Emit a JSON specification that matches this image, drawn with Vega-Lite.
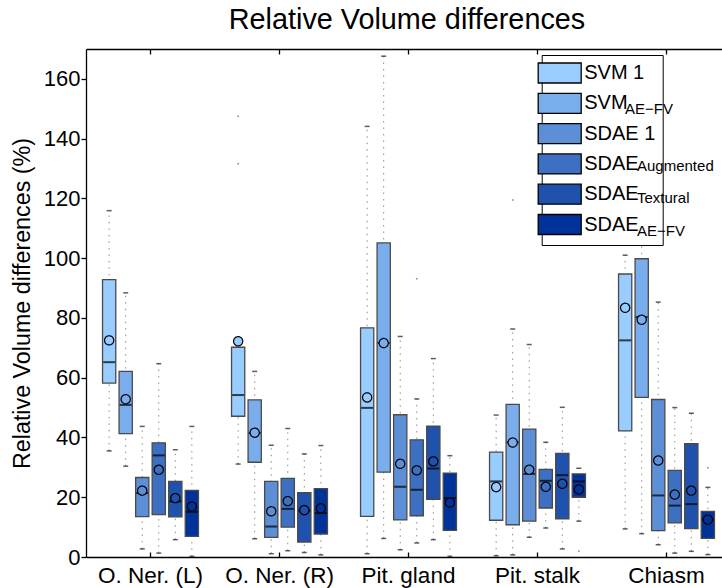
{
  "$schema": "https://vega.github.io/schema/vega-lite/v6.json",
  "width": 636,
  "height": 508,
  "autosize": "none",
  "padding": {"left": 86, "top": 49, "right": 0, "bottom": 31},
  "background": "white",
  "config": {"font": "Liberation Sans", "view": {"stroke": null}},
  "title": {"text": "Relative Volume differences", "fontSize": 28.8, "fontWeight": "normal", "color": "black", "anchor": "middle", "dx": 3, "offset": 14},
  "datasets": {
    "boxes": [
      {"structure": "O. Ner. (L)", "method": "SVM 1", "wlo": 35.5, "q1": 58.2, "median": 65.2, "q3": 92.8, "whi": 115.9, "mean": 72.5},
      {"structure": "O. Ner. (L)", "method": "SVM_AE−FV", "wlo": 30.4, "q1": 41.3, "median": 50.9, "q3": 62.1, "whi": 88.4, "mean": 52.8},
      {"structure": "O. Ner. (L)", "method": "SDAE 1", "wlo": 2.7, "q1": 13.5, "median": 21.4, "q3": 26.6, "whi": 43.7, "mean": 22.2},
      {"structure": "O. Ner. (L)", "method": "SDAE_Augmented", "wlo": 1.3, "q1": 14.2, "median": 34.0, "q3": 38.2, "whi": 64.7, "mean": 29.2},
      {"structure": "O. Ner. (L)", "method": "SDAE_Textural", "wlo": 5.8, "q1": 13.4, "median": 18.6, "q3": 25.3, "whi": 35.9, "mean": 19.7},
      {"structure": "O. Ner. (L)", "method": "SDAE_AE−FV", "wlo": 0.2, "q1": 6.9, "median": 15.1, "q3": 22.3, "whi": 43.7, "mean": 16.9},
      {"structure": "O. Ner. (R)", "method": "SVM 1", "wlo": 31.1, "q1": 47.1, "median": 54.2, "q3": 70.2, "whi": 70.2, "mean": 72.2},
      {"structure": "O. Ner. (R)", "method": "SVM_AE−FV", "wlo": 6.1, "q1": 31.7, "median": 41.5, "q3": 52.6, "whi": 62.1, "mean": 41.6},
      {"structure": "O. Ner. (R)", "method": "SDAE 1", "wlo": 1.1, "q1": 6.6, "median": 10.2, "q3": 25.3, "whi": 37.4, "mean": 15.3},
      {"structure": "O. Ner. (R)", "method": "SDAE_Augmented", "wlo": 2.1, "q1": 10.0, "median": 16.1, "q3": 26.3, "whi": 43.0, "mean": 18.7},
      {"structure": "O. Ner. (R)", "method": "SDAE_Textural", "wlo": 1.5, "q1": 5.0, "median": 15.5, "q3": 21.5, "whi": 34.5, "mean": 15.7},
      {"structure": "O. Ner. (R)", "method": "SDAE_AE−FV", "wlo": 0.7, "q1": 7.7, "median": 14.7, "q3": 22.9, "whi": 37.3, "mean": 16.3},
      {"structure": "Pit. gland", "method": "SVM 1", "wlo": 1.1, "q1": 13.6, "median": 49.9, "q3": 76.7, "whi": 144.1, "mean": 53.4},
      {"structure": "Pit. gland", "method": "SVM_AE−FV", "wlo": 6.2, "q1": 28.4, "median": 71.6, "q3": 105.1, "whi": 167.6, "mean": 71.6},
      {"structure": "Pit. gland", "method": "SDAE 1", "wlo": 2.4, "q1": 12.4, "median": 23.5, "q3": 47.6, "whi": 73.8, "mean": 31.2},
      {"structure": "Pit. gland", "method": "SDAE_Augmented", "wlo": 4.7, "q1": 13.8, "median": 22.5, "q3": 39.2, "whi": 52.9, "mean": 29.0},
      {"structure": "Pit. gland", "method": "SDAE_Textural", "wlo": 5.8, "q1": 19.3, "median": 29.6, "q3": 43.8, "whi": 66.4, "mean": 32.0},
      {"structure": "Pit. gland", "method": "SDAE_AE−FV", "wlo": 0.2, "q1": 8.9, "median": 19.7, "q3": 28.1, "whi": 33.9, "mean": 18.2},
      {"structure": "Pit. stalk", "method": "SVM 1", "wlo": 0.4, "q1": 12.3, "median": 25.3, "q3": 35.1, "whi": 47.5, "mean": 23.4},
      {"structure": "Pit. stalk", "method": "SVM_AE−FV", "wlo": 0.7, "q1": 10.8, "median": 38.4, "q3": 51.1, "whi": 76.3, "mean": 38.3},
      {"structure": "Pit. stalk", "method": "SDAE 1", "wlo": 6.6, "q1": 12.0, "median": 27.8, "q3": 42.8, "whi": 71.1, "mean": 29.2},
      {"structure": "Pit. stalk", "method": "SDAE_Augmented", "wlo": 9.7, "q1": 16.4, "median": 25.5, "q3": 29.3, "whi": 38.4, "mean": 23.5},
      {"structure": "Pit. stalk", "method": "SDAE_Textural", "wlo": 2.7, "q1": 12.8, "median": 27.4, "q3": 34.7, "whi": 50.1, "mean": 24.5},
      {"structure": "Pit. stalk", "method": "SDAE_AE−FV", "wlo": 12.0, "q1": 20.0, "median": 25.3, "q3": 27.8, "whi": 29.7, "mean": 22.6},
      {"structure": "Chiasm", "method": "SVM 1", "wlo": 9.4, "q1": 42.2, "median": 72.5, "q3": 94.7, "whi": 101.0, "mean": 83.4},
      {"structure": "Chiasm", "method": "SVM_AE−FV", "wlo": 7.8, "q1": 53.4, "median": 80.3, "q3": 99.8, "whi": 107.0, "mean": 79.4},
      {"structure": "Chiasm", "method": "SDAE 1", "wlo": 4.1, "q1": 8.8, "median": 20.6, "q3": 52.7, "whi": 85.3, "mean": 32.3},
      {"structure": "Chiasm", "method": "SDAE_Augmented", "wlo": 1.3, "q1": 11.4, "median": 17.2, "q3": 29.0, "whi": 50.0, "mean": 20.9},
      {"structure": "Chiasm", "method": "SDAE_Textural", "wlo": 1.9, "q1": 9.5, "median": 17.7, "q3": 37.9, "whi": 48.1, "mean": 22.2},
      {"structure": "Chiasm", "method": "SDAE_AE−FV", "wlo": 0.8, "q1": 6.2, "median": 12.5, "q3": 15.3, "whi": 23.3, "mean": 12.5}
    ],
    "outliers": [
      {"structure": "O. Ner. (R)", "method": "SVM 1", "value": 131.6},
      {"structure": "O. Ner. (R)", "method": "SVM 1", "value": 147.5},
      {"structure": "Pit. gland", "method": "SDAE_Augmented", "value": 93.1},
      {"structure": "Pit. stalk", "method": "SVM_AE−FV", "value": 119.5},
      {"structure": "Pit. stalk", "method": "SDAE_AE−FV", "value": 1.9},
      {"structure": "Chiasm", "method": "SDAE_AE−FV", "value": 29.9}
    ]
  },
  "layer": [
    {
      "data": {"name": "boxes"},
      "mark": {"type": "rule", "color": "#8c8c8c", "strokeDash": [1.5, 5], "strokeWidth": 1},
      "encoding": {
        "x": {"field": "structure", "type": "nominal", "sort": ["O. Ner. (L)", "O. Ner. (R)", "Pit. gland", "Pit. stalk", "Chiasm"], "scale": {"domain": ["O. Ner. (L)", "O. Ner. (R)", "Pit. gland", "Pit. stalk", "Chiasm"], "range": [0, 645], "paddingInner": 0, "paddingOuter": 0}, "axis": null},
        "xOffset": {"field": "method", "type": "nominal", "scale": {"domain": ["SVM 1", "SVM_AE−FV", "SDAE 1", "SDAE_Augmented", "SDAE_Textural", "SDAE_AE−FV"], "paddingInner": 0.2, "paddingOuter": 1.4}},
        "y": {"field": "wlo", "type": "quantitative", "scale": {"domain": [0, 170], "nice": false, "zero": false}, "axis": {"title": "Relative Volume differences (%)", "titleFontSize": 23.3, "titleFontWeight": "normal", "titleColor": "black", "titlePadding": 9, "labelFontSize": 22, "labelColor": "black", "tickSize": 5, "tickColor": "black", "tickWidth": 1.3, "labelPadding": 1, "values": [0, 20, 40, 60, 80, 100, 120, 140, 160], "grid": false, "domainColor": "black", "domainWidth": 1.3}},
        "y2": {"field": "whi"}
      }
    },
    {
      "data": {"name": "boxes"},
      "mark": {"type": "tick", "color": "#1a1a1a", "thickness": 1.5, "size": 5},
      "encoding": {
        "x": {"field": "structure", "type": "nominal", "axis": null},
        "xOffset": {"field": "method", "type": "nominal"},
        "y": {"field": "wlo", "type": "quantitative", "axis": {"title": "Relative Volume differences (%)", "titleFontSize": 23.3, "titleFontWeight": "normal", "titleColor": "black", "titlePadding": 9, "labelFontSize": 22, "labelColor": "black", "tickSize": 5, "tickColor": "black", "tickWidth": 1.3, "labelPadding": 1, "values": [0, 20, 40, 60, 80, 100, 120, 140, 160], "grid": false, "domainColor": "black", "domainWidth": 1.3}}
      }
    },
    {
      "data": {"name": "boxes"},
      "mark": {"type": "tick", "color": "#1a1a1a", "thickness": 1.5, "size": 5},
      "encoding": {
        "x": {"field": "structure", "type": "nominal", "axis": null},
        "xOffset": {"field": "method", "type": "nominal"},
        "y": {"field": "whi", "type": "quantitative", "axis": {"title": "Relative Volume differences (%)", "titleFontSize": 23.3, "titleFontWeight": "normal", "titleColor": "black", "titlePadding": 9, "labelFontSize": 22, "labelColor": "black", "tickSize": 5, "tickColor": "black", "tickWidth": 1.3, "labelPadding": 1, "values": [0, 20, 40, 60, 80, 100, 120, 140, 160], "grid": false, "domainColor": "black", "domainWidth": 1.3}}
      }
    },
    {
      "data": {"name": "boxes"},
      "mark": {"type": "bar", "stroke": "#4a4a4a", "strokeWidth": 1.3},
      "encoding": {
        "x": {"field": "structure", "type": "nominal", "axis": {"orient": "bottom", "title": null, "labelFontSize": 22.5, "labelColor": "black", "labelAngle": 0, "tickSize": -5, "tickColor": "black", "tickWidth": 1.3, "domainColor": "black", "domainWidth": 1.3, "labelPadding": 12, "grid": false}},
        "xOffset": {"field": "method", "type": "nominal"},
        "y": {"field": "q1", "type": "quantitative", "axis": {"title": "Relative Volume differences (%)", "titleFontSize": 23.3, "titleFontWeight": "normal", "titleColor": "black", "titlePadding": 9, "labelFontSize": 22, "labelColor": "black", "tickSize": 5, "tickColor": "black", "tickWidth": 1.3, "labelPadding": 1, "values": [0, 20, 40, 60, 80, 100, 120, 140, 160], "grid": false, "domainColor": "black", "domainWidth": 1.3}},
        "y2": {"field": "q3"},
        "color": {
          "field": "method", "type": "nominal",
          "scale": {"domain": ["SVM 1", "SVM_AE−FV", "SDAE 1", "SDAE_Augmented", "SDAE_Textural", "SDAE_AE−FV"], "range": ["#99CCFF", "#7AADEB", "#5C8FD6", "#3D70C2", "#1F52AD", "#003399"]},
          "legend": {
            "orient": "none", "legendX": 455.7, "legendY": 6, "title": null, "padding": 7, "rowPadding": 4.3,
            "symbolType": "M-2.15,-1H2.15V1H-2.15Z", "symbolSize": 400, "symbolStrokeColor": "black", "symbolStrokeWidth": 1.3, "symbolOpacity": 1,
            "labelFontSize": 20, "labelColor": "black", "labelOffset": 13.5, "labelLimit": 600,
            "strokeColor": "black", "fillColor": "white", "zindex": 1,
            "labelExpr": "split(datum.label, '_')[0] + '\u00a0\u00a0\u00a0\u00a0\u00a0\u00a0\u00a0\u00a0\u00a0\u00a0\u00a0\u00a0\u00a0\u00a0\u00a0\u00a0\u00a0\u00a0\u00a0\u00a0\u00a0\u00a0\u00a0\u00a0\u00a0\u00a0\u00a0\u00a0'"
          }
        }
      }
    },
    {
      "data": {"name": "boxes"},
      "mark": {"type": "tick", "color": "black", "thickness": 2, "size": 12},
      "encoding": {
        "x": {"field": "structure", "type": "nominal", "axis": {"orient": "top", "title": null, "labels": false, "tickSize": -5, "tickColor": "black", "tickWidth": 1.3, "domainColor": "black", "domainWidth": 1.3, "grid": false}},
        "xOffset": {"field": "method", "type": "nominal"},
        "y": {"field": "median", "type": "quantitative", "axis": {"title": "Relative Volume differences (%)", "titleFontSize": 23.3, "titleFontWeight": "normal", "titleColor": "black", "titlePadding": 9, "labelFontSize": 22, "labelColor": "black", "tickSize": 5, "tickColor": "black", "tickWidth": 1.3, "labelPadding": 1, "values": [0, 20, 40, 60, 80, 100, 120, 140, 160], "grid": false, "domainColor": "black", "domainWidth": 1.3}}
      }
    },
    {
      "data": {"name": "boxes"},
      "mark": {"type": "point", "filled": true, "stroke": "black", "strokeWidth": 1.2, "size": 85, "opacity": 1},
      "encoding": {
        "x": {"field": "structure", "type": "nominal", "axis": null},
        "xOffset": {"field": "method", "type": "nominal"},
        "y": {"field": "mean", "type": "quantitative", "axis": {"title": "Relative Volume differences (%)", "titleFontSize": 23.3, "titleFontWeight": "normal", "titleColor": "black", "titlePadding": 9, "labelFontSize": 22, "labelColor": "black", "tickSize": 5, "tickColor": "black", "tickWidth": 1.3, "labelPadding": 1, "values": [0, 20, 40, 60, 80, 100, 120, 140, 160], "grid": false, "domainColor": "black", "domainWidth": 1.3}},
        "color": {"field": "method", "type": "nominal"},
        "shape": {
          "field": "method", "type": "nominal", "sort": ["SVM 1", "SVM_AE−FV", "SDAE 1", "SDAE_Augmented", "SDAE_Textural", "SDAE_AE−FV"],
          "scale": {"range": ["circle", "circle", "circle", "circle", "circle", "circle"]},
          "legend": {
            "orient": "none", "legendX": 524, "legendY": 52.5, "title": null, "padding": 0, "values": ["SVM_AE−FV"],
            "symbolSize": 1, "symbolOpacity": 0, "symbolStrokeWidth": 0,
            "labelFontSize": 15, "labelColor": "black", "labelOffset": 0, "labelLimit": 600, "zindex": 2,
            "labelExpr": "split(datum.label, '_')[1]"
          }
        },
        "strokeDash": {
          "field": "method", "type": "nominal", "sort": "descending",
          "scale": {"range": [[1, 0], [1, 0], [1, 0], [1, 0], [1, 0], [1, 0]]},
          "legend": {
            "orient": "none", "legendX": 536, "legendY": 109.5, "title": null, "padding": 0, "rowPadding": 16.4, "values": ["SDAE_Augmented", "SDAE_Textural", "SDAE_AE−FV"],
            "symbolSize": 1, "symbolOpacity": 0, "symbolStrokeWidth": 0,
            "labelFontSize": 15, "labelColor": "black", "labelOffset": 0, "labelLimit": 600, "zindex": 3,
            "labelExpr": "split(datum.label, '_')[1]"
          }
        }
      }
    },
    {
      "data": {"name": "outliers"},
      "mark": {"type": "point", "filled": true, "color": "#9a9a9a", "size": 4, "opacity": 1},
      "encoding": {
        "x": {"field": "structure", "type": "nominal", "axis": null},
        "xOffset": {"field": "method", "type": "nominal"},
        "y": {"field": "value", "type": "quantitative", "axis": {"title": "Relative Volume differences (%)", "titleFontSize": 23.3, "titleFontWeight": "normal", "titleColor": "black", "titlePadding": 9, "labelFontSize": 22, "labelColor": "black", "tickSize": 5, "tickColor": "black", "tickWidth": 1.3, "labelPadding": 1, "values": [0, 20, 40, 60, 80, 100, 120, 140, 160], "grid": false, "domainColor": "black", "domainWidth": 1.3}}
      }
    }
  ],
  "resolve": {"axis": {"x": "independent"}}
}
